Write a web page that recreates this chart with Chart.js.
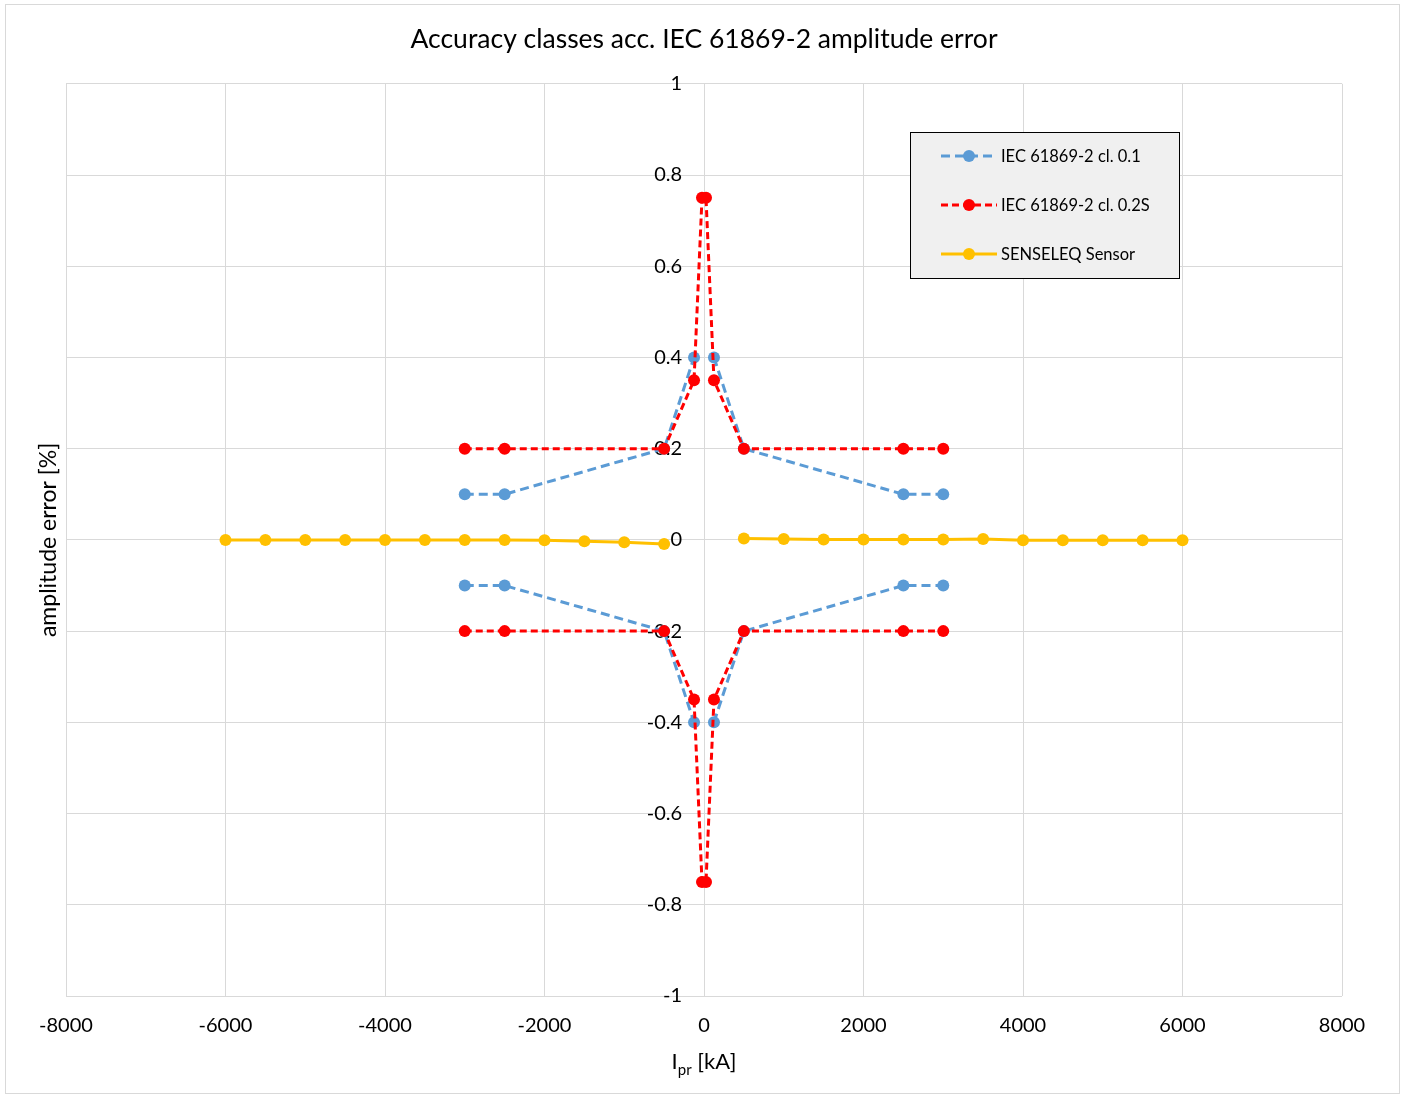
<!DOCTYPE html>
<html>
<head>
<meta charset="utf-8">
<script src="https://cdn.jsdelivr.net/npm/chart.js@4.4.1/dist/chart.umd.min.js"></script>
<style>
    body { margin: 0; background: #ffffff; }
    #contenedor { width: 1405px; height: 1097px; position: relative; }
</style>
</head>
<body>
<div id="contenedor"><canvas id="graficaError"></canvas></div>
<script>
// Datos (x en kA, y en %)
const tituloGrafica = 'Accuracy classes acc. IEC 61869-2 amplitude error';
const tituloEjeY = 'amplitude error [%]';

const etiquetaCl01 = 'IEC 61869-2 cl. 0.1';
const cl01X = [-3000, -2500, -500, -125, null, 125, 500, 2500, 3000, null,
               -3000, -2500, -500, -125, null, 125, 500, 2500, 3000];
const cl01Y = [0.1, 0.1, 0.2, 0.4, null, 0.4, 0.2, 0.1, 0.1, null,
               -0.1, -0.1, -0.2, -0.4, null, -0.4, -0.2, -0.1, -0.1];

const etiquetaCl02S = 'IEC 61869-2 cl. 0.2S';
const cl02SX = [-3000, -2500, -500, -125, -25, 25, 125, 500, 2500, 3000, null,
                -3000, -2500, -500, -125, -25, 25, 125, 500, 2500, 3000];
const cl02SY = [0.2, 0.2, 0.2, 0.35, 0.75, 0.75, 0.35, 0.2, 0.2, 0.2, null,
                -0.2, -0.2, -0.2, -0.35, -0.75, -0.75, -0.35, -0.2, -0.2, -0.2];

const etiquetaSensor = 'SENSELEQ Sensor';
const sensorX = [-6000, -5500, -5000, -4500, -4000, -3500, -3000, -2500, -2000, -1500, -1000, -500, null,
                 500, 1000, 1500, 2000, 2500, 3000, 3500, 4000, 4500, 5000, 5500, 6000];
const sensorY = [0, 0, 0, 0, 0, 0, 0, 0, -0.001, -0.003, -0.005, -0.009, null,
                 0.003, 0.002, 0.001, 0.001, 0.001, 0.001, 0.002, -0.001, -0.001, -0.001, -0.001, -0.001];

const ticksX = { min: -8000, max: 8000, paso: 2000 };
const ticksY = { min: -1, max: 1, paso: 0.2 };

const fuente = 'Lato, "Open Sans", sans-serif';
const colorRejilla = '#d9d9d9';

function puntos(xs, ys) {
    return xs.map((x, i) => ({ x: x, y: ys[i] }));
}

// Marco exterior gris
const marcoPlugin = {
    id: 'marco',
    beforeDraw(chart) {
        const c = chart.ctx;
        c.save();
        c.strokeStyle = colorRejilla;
        c.lineWidth = 1;
        c.strokeRect(5.5, 4.5, chart.width - 11, chart.height - 8);
        c.restore();
    }
};

// Titulos de ejes (el de X lleva subindice)
const titulosEjesPlugin = {
    id: 'titulosEjes',
    afterDraw(chart) {
        const c = chart.ctx;
        const area = chart.chartArea;
        c.save();
        c.fillStyle = '#000';
        c.textBaseline = 'alphabetic';

        // eje Y
        c.translate(56, (area.top + area.bottom) / 2);
        c.rotate(-Math.PI / 2);
        c.font = '23px ' + fuente;
        c.textAlign = 'center';
        c.fillText(tituloEjeY, 0, 0);
        c.setTransform(1, 0, 0, 1, 0, 0);

        // eje X: I + pr (subindice) + [kA]
        const base = 1069;
        const centro = chart.scales.x.getPixelForValue(0);
        c.textAlign = 'left';
        c.font = '22px ' + fuente;
        const wI = c.measureText('I').width;
        const wResto = c.measureText(' [kA]').width;
        c.font = '15px ' + fuente;
        const wSub = c.measureText('pr').width;
        let x = centro - (wI + wSub + wResto) / 2;
        c.font = '22px ' + fuente;
        c.fillText('I', x, base);
        x += wI;
        c.font = '15px ' + fuente;
        c.fillText('pr', x, base + 6);
        x += wSub;
        c.font = '22px ' + fuente;
        c.fillText(' [kA]', x, base);
        c.restore();
    }
};

// Leyenda dibujada a mano (linea + marcador)
const leyendaPlugin = {
    id: 'leyendaCaja',
    afterDraw(chart) {
        const c = chart.ctx;
        const caja = { x: 910.5, y: 132.5, w: 269, h: 146 };
        c.save();
        c.fillStyle = '#f0f0f0';
        c.fillRect(caja.x, caja.y, caja.w, caja.h);
        c.strokeStyle = '#000';
        c.lineWidth = 1;
        c.strokeRect(caja.x, caja.y, caja.w, caja.h);

        c.font = '16.5px ' + fuente;
        c.textBaseline = 'middle';
        chart.data.datasets.forEach((ds, i) => {
            const y = 156 + i * 49;
            c.strokeStyle = ds.borderColor;
            c.lineWidth = ds.borderWidth;
            c.setLineDash(ds.borderDash || []);
            c.beginPath();
            c.moveTo(941, y);
            c.lineTo(997, y);
            c.stroke();
            c.setLineDash([]);
            c.fillStyle = ds.backgroundColor;
            c.beginPath();
            c.arc(969, y, ds.pointRadius, 0, Math.PI * 2);
            c.fill();
            c.fillStyle = '#000';
            c.fillText(ds.label, 1001, y + 1);
        });
        c.restore();
    }
};

const ctx = document.getElementById('graficaError').getContext('2d');
const graficaChart = new Chart(ctx, {
    type: 'scatter',
    data: {
        datasets: [{
            label: etiquetaCl01,
            data: puntos(cl01X, cl01Y),
            showLine: true,
            borderColor: '#5b9bd5',
            backgroundColor: '#5b9bd5',
            borderWidth: 3,
            borderDash: [9, 5],
            pointRadius: 6,
            pointBorderWidth: 0,
            order: 3
        }, {
            label: etiquetaCl02S,
            data: puntos(cl02SX, cl02SY),
            showLine: true,
            borderColor: '#ff0000',
            backgroundColor: '#ff0000',
            borderWidth: 3,
            borderDash: [7, 4],
            pointRadius: 6,
            pointBorderWidth: 0,
            order: 2
        }, {
            label: etiquetaSensor,
            data: puntos(sensorX, sensorY),
            showLine: true,
            borderColor: '#ffc000',
            backgroundColor: '#ffc000',
            borderWidth: 3,
            pointRadius: 6,
            pointBorderWidth: 0,
            order: 1
        }]
    },
    options: {
        responsive: true,
        maintainAspectRatio: false,
        animation: false,
        layout: { padding: { left: 66, right: 63, bottom: 41 } },
        plugins: {
            legend: { display: false },
            tooltip: { enabled: false },
            title: {
                display: true,
                text: tituloGrafica,
                color: '#000',
                font: { family: fuente, size: 26.5, weight: 'normal' },
                padding: { top: 24, bottom: 28 }
            }
        },
        scales: {
            x: {
                type: 'linear',
                position: 'bottom',
                min: ticksX.min,
                max: ticksX.max,
                ticks: {
                    stepSize: ticksX.paso,
                    color: '#000',
                    font: { family: fuente, size: 20 },
                    padding: 18,
                    callback: v => String(v)
                },
                grid: { color: colorRejilla, drawTicks: false },
                border: { display: false }
            },
            y: {
                type: 'linear',
                // etiquetas un poco a la izquierda de x = 0 (la linea de x = 0 la pone la rejilla)
                position: { x: -275 },
                min: ticksY.min,
                max: ticksY.max,
                ticks: {
                    stepSize: ticksY.paso,
                    color: '#000',
                    font: { family: fuente, size: 20 },
                    callback: v => String(parseFloat(v.toFixed(1)))
                },
                grid: { color: colorRejilla, drawTicks: false },
                border: { display: false }
            }
        }
    },
    plugins: [marcoPlugin, titulosEjesPlugin, leyendaPlugin]
});
</script>
</body>
</html>
